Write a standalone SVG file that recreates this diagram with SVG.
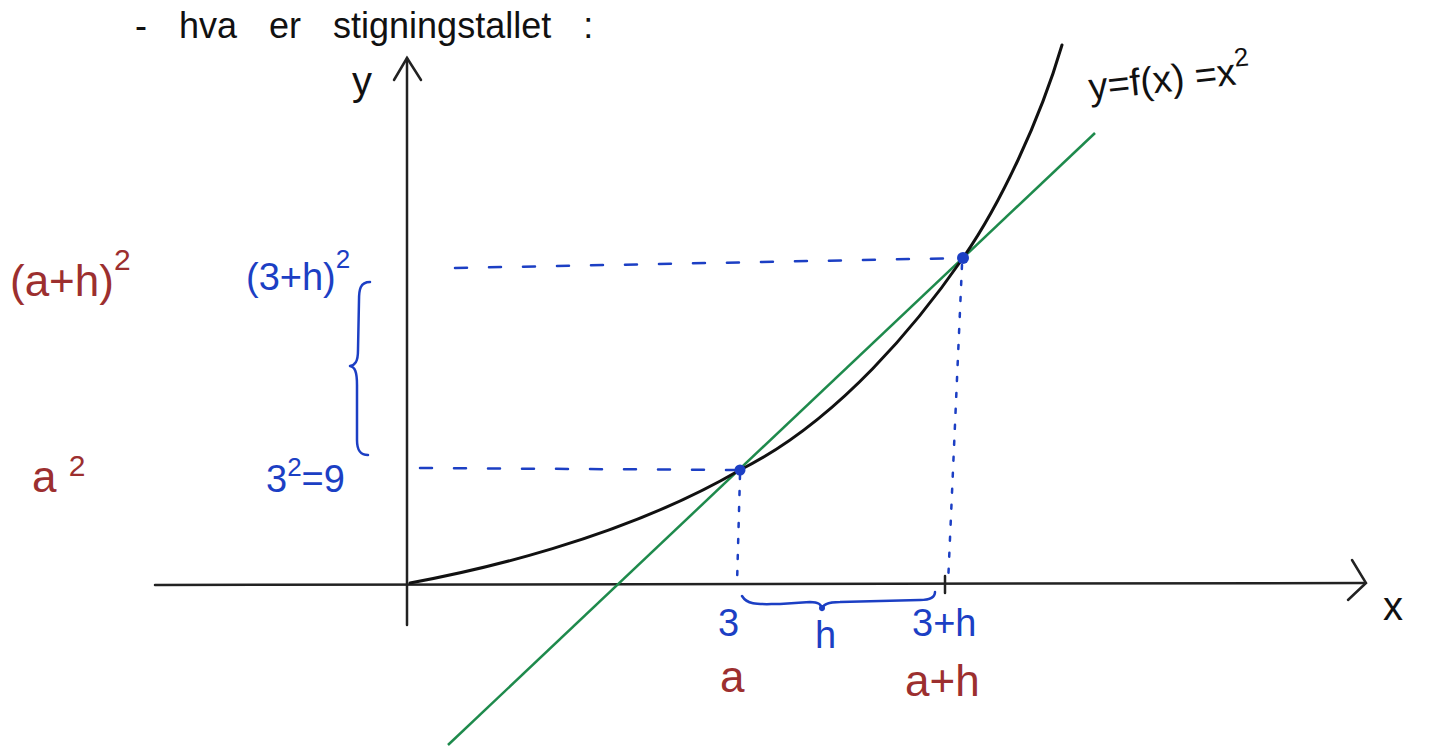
<svg xmlns="http://www.w3.org/2000/svg" width="1435" height="751" viewBox="0 0 1435 751">
<style>
.hand{font-family:"Liberation Sans","DejaVu Sans",sans-serif}
.blk{fill:#111}
.blue{fill:#1c3fc4}
.red{fill:#9c2f2f}
.axis{stroke:#222;stroke-width:2.5;fill:none;stroke-linecap:round}
.dash{stroke:#1c3fc4;stroke-width:2.5;fill:none;stroke-dasharray:12 22;stroke-linecap:round}
.dot{stroke:#1c3fc4;stroke-width:2.5;fill:none;stroke-dasharray:4 12;stroke-linecap:round}
.brace{stroke:#1c3fc4;stroke-width:2.5;fill:none;stroke-linecap:round;stroke-linejoin:round}
</style>
<rect width="1435" height="751" fill="#fff"/>
<text class="hand blk" x="135" y="38" font-size="36" word-spacing="22">- hva er  stigningstallet :</text>
<g id="axes">
<path class="axis" d="M407,625 L407,58"/>
<path class="axis" d="M394,80 L407,58 L421,80"/>
<path class="axis" d="M155,585 L1365,583"/>
<path class="axis" d="M1352,560 L1366,583 L1348,600"/>
<text class="hand blk" x="352" y="95" font-size="40">y</text>
<text class="hand blk" x="1383" y="620" font-size="40">x</text>
</g>
<g id="guides">
<path class="dash" d="M420,468 L740,470"/>
<path class="dash" d="M455,268 L963,258"/>
<path class="dot" d="M740,475 L737,584"/>
<path class="dot" d="M962,265 L948,584"/>
<path class="axis" d="M945,576 L945,593" stroke-width="2"/>
</g>
<g id="secant">
<path d="M448,745 L1095,133" stroke="#1e8a4c" stroke-width="2.5" fill="none"/>
</g>
<g id="curve">
<path d="M410,583 C470,572 620,540 740,470 C840,420 920,320 963,258 C1000,205 1040,120 1062,45" stroke="#111" stroke-width="3" fill="none" stroke-linecap="round"/>
<text class="hand blk" x="1090" y="100" font-size="38" transform="rotate(-6 1090 100)">y=f(x) =x<tspan font-size="26" dy="-18">2</tspan></text>
</g>
<g id="pointA">
<circle cx="740" cy="470" r="5.5" fill="#1c3fc4"/>
</g>
<g id="pointB">
<circle cx="963" cy="258" r="6" fill="#1c3fc4"/>
</g>
<g id="brace-y">
<path class="brace" d="M370,282 C360,282 359,290 359,300 L358,350 C358,362 355,365 350,366 C355,367 357,372 357,385 L357,440 C357,450 360,455 368,455"/>
</g>
<g id="brace-x">
<path class="brace" d="M742,596 C748,606 760,604 780,604 L810,602 C818,602 822,604 822,610 C822,604 828,602 840,602 L920,600 C930,600 935,598 935,592" stroke-width="3"/>
<circle cx="822" cy="608" r="3" fill="#1c3fc4"/>
</g>
<g id="labels-blue">
<text class="hand blue" x="246" y="290" font-size="38">(3+h)<tspan font-size="26" dy="-22">2</tspan></text>
<text class="hand blue" x="266" y="492" font-size="38">3<tspan font-size="26" dy="-16">2</tspan><tspan dy="16">=9</tspan></text>
<text class="hand blue" x="718" y="636" font-size="38">3</text>
<text class="hand blue" x="815" y="648" font-size="38">h</text>
<text class="hand blue" x="912" y="636" font-size="38">3+h</text>
</g>
<g id="labels-red">
<text class="hand red" x="10" y="296" font-size="44">(a+h)<tspan font-size="30" dy="-26">2</tspan></text>
<text class="hand red" x="32" y="492" font-size="44">a <tspan font-size="30" dy="-16">2</tspan></text>
<text class="hand red" x="720" y="692" font-size="44">a</text>
<text class="hand red" x="905" y="696" font-size="44">a+h</text>
</g>
</svg>
